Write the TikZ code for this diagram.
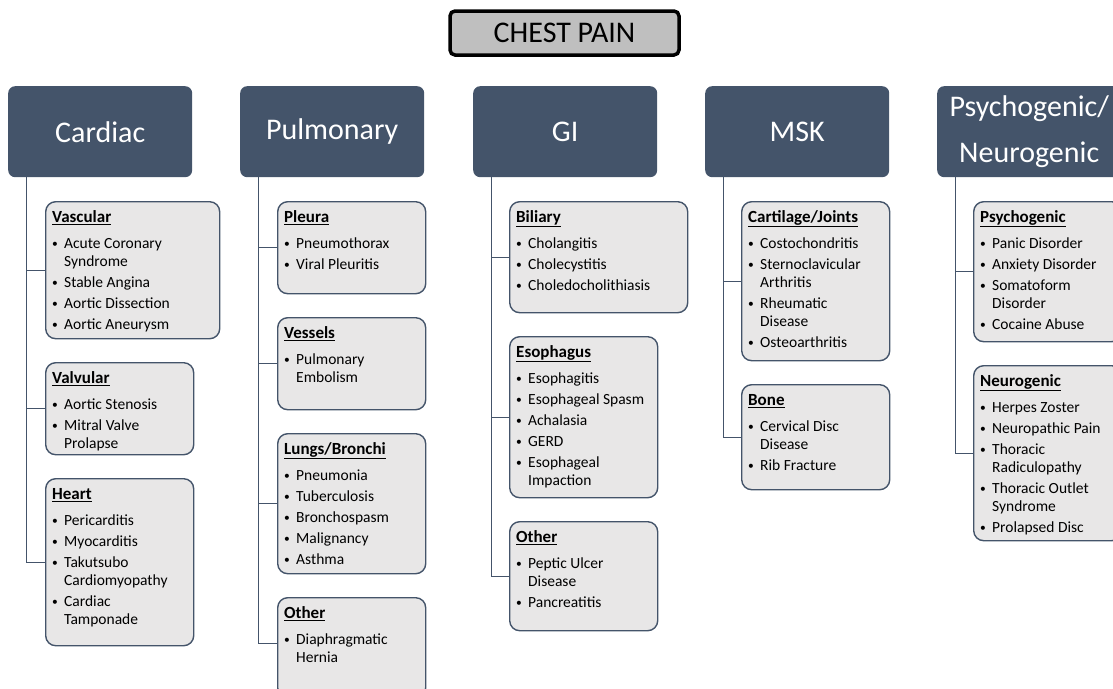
\documentclass[tikz,border=0pt]{standalone}
\usepackage{fontspec}
\setmainfont{Carlito}
\definecolor{hdr}{HTML}{44546A}
\definecolor{subfill}{HTML}{E8E7E7}
\definecolor{ttl}{HTML}{BFBFBF}
\newcommand\hd[1]{\rule{0pt}{14pt}{\fontsize{17}{18}\selectfont\bfseries\underline{#1}}}
\newcommand\bu{\makebox[12pt][l]{\raisebox{0.6pt}{\fontsize{11.5}{12}\selectfont\textbullet}}}
\newcommand\ind{\hspace*{12pt}}
\tikzset{
  titlebox/.style={draw=black, line width=3.5pt, fill=ttl, rounded corners=5pt,
    minimum width=229pt, minimum height=44pt, font=\fontsize{30}{34}\selectfont},
  cat/.style={fill=hdr, rounded corners=7pt, minimum width=184pt, minimum height=91pt,
    text=white, align=center, font=\fontsize{30}{46}\selectfont, anchor=north west},
  subb/.style={draw=hdr, line width=1.4pt, fill=subfill, rounded corners=10pt, anchor=north west},
  subtxt/.style={anchor=north west, inner sep=0pt, align=left, font=\fontsize{15.5}{18}\selectfont},
  conn/.style={draw=hdr, line width=1.4pt}
}
% name, x, y, w, h, text
\newcommand\subbox[6]{%
  \node[subb, minimum width=#4pt, minimum height=#5pt] (#1) at (#2,#3) {};
  \node[subtxt] (#1t) at ([shift={(7pt,-7pt)}]#1.north west) {#6};
}
\begin{document}
\begin{tikzpicture}[x=1pt,y=-1pt]
\useasboundingbox (0,0) rectangle (1113,688);

\node[titlebox] (title) at (564.5,33) {CHEST PAIN};

\node[cat] (card) at (8,86) {Cardiac};
\node[cat] (pulm) at (240,86) {Pulmonary};
\node[cat] (gi) at (473,86) {GI};
\node[cat] (msk) at (705,86) {MSK};
\node[cat] (psy) at (937,86) {Psychogenic/\\Neurogenic};

% Cardiac
\subbox{vasc}{45}{201}{174}{137}{\hd{Vascular}\\[8pt]
\bu Acute Coronary\\ \ind Syndrome\\[3pt]
\bu Stable Angina\\[3pt]
\bu Aortic Dissection\\[3pt]
\bu Aortic Aneurysm}
\subbox{valv}{45}{362}{148}{92}{\hd{Valvular}\\[8pt]
\bu Aortic Stenosis\\[3pt]
\bu Mitral Valve\\ \ind Prolapse}
\subbox{heart}{45}{478}{148}{167}{\hd{Heart}\\[8pt]
\bu Pericarditis\\[3pt]
\bu Myocarditis\\[3pt]
\bu Takutsubo\\ \ind Cardiomyopathy\\[3pt]
\bu Cardiac\\ \ind Tamponade}

% Pulmonary
\subbox{pleura}{277}{201}{148}{92}{\hd{Pleura}\\[8pt]
\bu Pneumothorax\\[3pt]
\bu Viral Pleuritis}
\subbox{vess}{277}{317}{148}{92}{\hd{Vessels}\\[8pt]
\bu Pulmonary\\ \ind Embolism}
\subbox{lungs}{277}{433}{148}{140}{\hd{Lungs/Bronchi}\\[8pt]
\bu Pneumonia\\[3pt]
\bu Tuberculosis\\[3pt]
\bu Bronchospasm\\[3pt]
\bu Malignancy\\[3pt]
\bu Asthma}
\subbox{pother}{277}{597}{148}{100}{\hd{Other}\\[8pt]
\bu Diaphragmatic\\ \ind Hernia}

% GI
\subbox{bil}{509}{201}{178}{111}{\hd{Biliary}\\[8pt]
\bu Cholangitis\\[3pt]
\bu Cholecystitis\\[3pt]
\bu Choledocholithiasis}
\subbox{eso}{509}{336}{148}{161}{\hd{Esophagus}\\[8pt]
\bu Esophagitis\\[3pt]
\bu Esophageal Spasm\\[3pt]
\bu Achalasia\\[3pt]
\bu GERD\\[3pt]
\bu Esophageal\\ \ind Impaction}
\subbox{gother}{509}{521}{148}{109}{\hd{Other}\\[8pt]
\bu Peptic Ulcer\\ \ind Disease\\[3pt]
\bu Pancreatitis}

% MSK
\subbox{cart}{741}{201}{148}{159}{\hd{Cartilage/Joints}\\[8pt]
\bu Costochondritis\\[3pt]
\bu Sternoclavicular\\ \ind Arthritis\\[3pt]
\bu Rheumatic\\ \ind Disease\\[3pt]
\bu Osteoarthritis}
\subbox{bone}{741}{384}{148}{105}{\hd{Bone}\\[8pt]
\bu Cervical Disc\\ \ind Disease\\[3pt]
\bu Rib Fracture}

% Psych
\subbox{psyc}{973}{201}{148}{140}{\hd{Psychogenic}\\[8pt]
\bu Panic Disorder\\[3pt]
\bu Anxiety Disorder\\[3pt]
\bu Somatoform\\ \ind Disorder\\[3pt]
\bu Cocaine Abuse}
\subbox{neuro}{973}{365}{148}{175}{\hd{Neurogenic}\\[8pt]
\bu Herpes Zoster\\[3pt]
\bu Neuropathic Pain\\[3pt]
\bu Thoracic\\ \ind Radiculopathy\\[3pt]
\bu Thoracic Outlet\\ \ind Syndrome\\[3pt]
\bu Prolapsed Disc}

% connectors
\coordinate (cardx) at ([xshift=18.5pt]card.south west);
\coordinate (pulmx) at ([xshift=18.5pt]pulm.south west);
\coordinate (gix) at ([xshift=18.5pt]gi.south west);
\coordinate (mskx) at ([xshift=18.5pt]msk.south west);
\coordinate (psyx) at ([xshift=18.5pt]psy.south west);

\draw[conn] (cardx) |- (heart.west);
\draw[conn] (vasc.west) -- (vasc.west -| cardx);
\draw[conn] (valv.west) -- (valv.west -| cardx);

\draw[conn] (pulmx) |- ([yshift=4pt]pother.west);
\draw[conn] (pleura.west) -- (pleura.west -| pulmx);
\draw[conn] (vess.west) -- (vess.west -| pulmx);
\draw[conn] (lungs.west) -- (lungs.west -| pulmx);

\draw[conn] (gix) |- (gother.west);
\draw[conn] (bil.west) -- (bil.west -| gix);
\draw[conn] (eso.west) -- (eso.west -| gix);

\draw[conn] (mskx) |- (bone.west);
\draw[conn] (cart.west) -- (cart.west -| mskx);

\draw[conn] (psyx) |- (neuro.west);
\draw[conn] (psyc.west) -- (psyc.west -| psyx);
\end{tikzpicture}
\end{document}
